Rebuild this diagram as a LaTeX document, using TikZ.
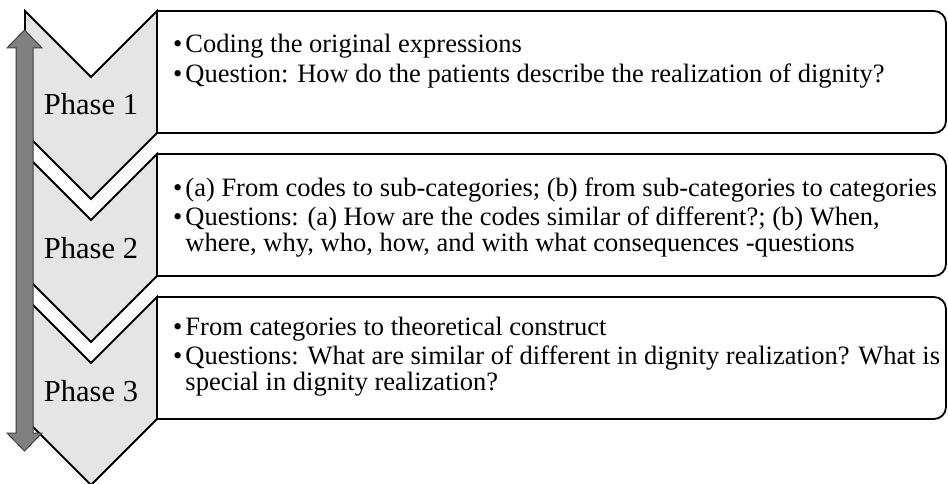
\documentclass[tikz,border=0pt]{standalone}
\usepackage{fontspec}
\setmainfont{Liberation Serif}
\usepackage{tikz}
\usetikzlibrary{calc}

\begin{document}
\begin{tikzpicture}[x=1pt,y=-1pt,line join=miter,
  chev/.style={fill=black!10,draw=black,line width=1.8pt},
  phbox/.style={draw=black,line width=1.8pt,fill=white},
  phase/.style={anchor=base,inner sep=0pt,font=\fontsize{30.5}{36}\selectfont},
  txt/.style={anchor=west,inner sep=0pt,align=left,font=\fontsize{26.5}{23.5}\selectfont}]
  \useasboundingbox (0,0) rectangle (948,484);
  % boxes with the two right corners rounded
  \draw[phbox] (157,11) -- (934,11) arc[start angle=-90,end angle=0,radius=12]
    -- (946,121) arc[start angle=0,end angle=90,radius=12] -- (157,133) -- cycle;
  \draw[phbox] (157,154) -- (934,154) arc[start angle=-90,end angle=0,radius=12]
    -- (946,264) arc[start angle=0,end angle=90,radius=12] -- (157,276) -- cycle;
  \draw[phbox] (157,297) -- (934,297) arc[start angle=-90,end angle=0,radius=12]
    -- (946,407) arc[start angle=0,end angle=90,radius=12] -- (157,419) -- cycle;
  % chevrons
  \draw[chev] (25,11) -- (91,77) -- (157,11) -- (157,133) -- (91,199) -- (25,133) -- cycle;
  \draw[chev] (25,154) -- (91,220) -- (157,154) -- (157,276) -- (91,342) -- (25,276) -- cycle;
  \draw[chev] (25,297) -- (91,363) -- (157,297) -- (157,419) -- (91,485) -- (25,419) -- cycle;
  \node[phase] (ph1) at (91,115) {Phase 1};
  \node[phase] (ph2) at (91,258) {Phase 2};
  \node[phase] (ph3) at (91,401) {Phase 3};
  % double arrow along the phases
  \coordinate (atop) at (24.5,30);
  \coordinate (abot) at (24.5,451);
  \filldraw[fill=black!50,draw=black!75,line width=1pt]
    (atop) -- ($(atop)+(17.5,18)$) -- ($(atop)+(8.5,18)$) -- ($(abot)+(8.5,-18)$)
    -- ($(abot)+(17.5,-18)$) -- (abot) -- ($(abot)+(-17.5,-18)$) -- ($(abot)+(-8.5,-18)$)
    -- ($(atop)+(-8.5,18)$) -- ($(atop)+(-17.5,18)$) -- cycle;
  % texts
  \node[txt] (t1) at (173,62) {\begin{tabular}{@{}l@{\hspace{3pt}}l@{}}
    \textbullet & Coding the original expressions\\[4pt]
    \textbullet & Question: How do the patients describe the realization of dignity?
    \end{tabular}};
  \node[txt] (t2) at (173,218) {\begin{tabular}{@{}l@{\hspace{3pt}}l@{}}
    \textbullet & (a) From codes to sub-categories; (b) from sub-categories to categories\\[4pt]
    \textbullet & Questions: (a) How are the codes similar of different?; (b) When,\\
    & where, why, who, how, and with what consequences -questions
    \end{tabular}};
  \node[txt] (t3) at (173,357) {\begin{tabular}{@{}l@{\hspace{3pt}}l@{}}
    \textbullet & From categories to theoretical construct\\[4pt]
    \textbullet & Questions: What are similar of different in dignity realization? What is\\
    & special in dignity realization?
    \end{tabular}};
\end{tikzpicture}
\end{document}
